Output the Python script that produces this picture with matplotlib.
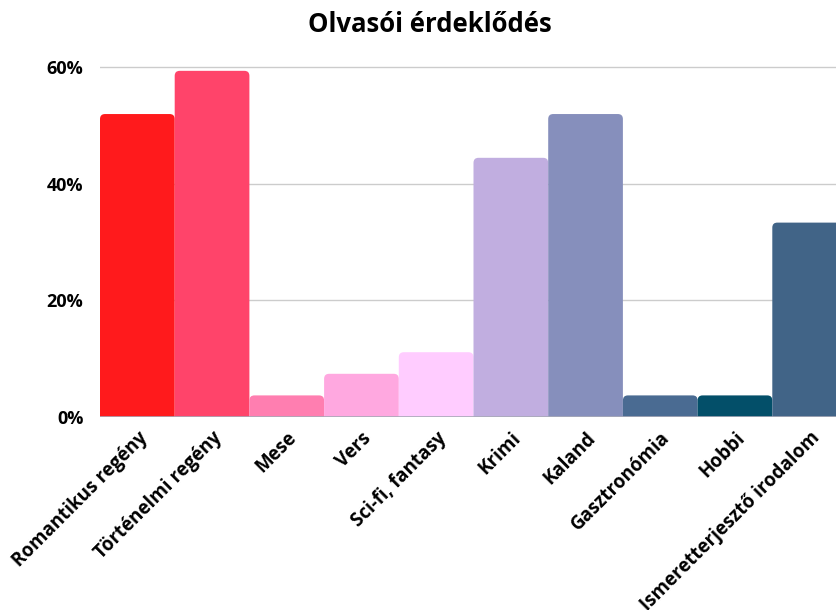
import matplotlib.pyplot as plt
from matplotlib.patches import FancyBboxPatch
from matplotlib.ticker import PercentFormatter

categories = ["Romantikus regény", "Történelmi regény", "Mese", "Vers",
              "Sci-fi, fantasy", "Krimi", "Kaland", "Gasztronómia", "Hobbi",
              "Ismeretterjesztő irodalom"]
values = [51.9, 59.3, 3.7, 7.4, 11.1, 44.4, 51.9, 3.7, 3.7, 33.3]
colors = ["#ff1a1c", "#ff446a", "#ff7eb0", "#ffa8e0", "#ffccff",
          "#c1aee0", "#868fbc", "#4a6b92", "#034f69", "#416487"]
yticks = [0, 20, 40, 60]

plt.rcParams['font.family'] = ['Open Sans', 'DejaVu Sans']

fig = plt.figure(figsize=(8.36, 6.1), dpi=100)
ax = fig.add_axes([100 / 836, 193 / 610, 747 / 836, 352 / 610])

ax.set_xlim(-0.5, len(categories) - 0.5)
ax.set_ylim(0, 60.3)

# px per data unit, used to keep the corner radius round
px_x = 747 / len(categories)
px_y = 352 / 60.3
aspect = px_x / px_y

bars = ax.bar(range(len(values)), values, width=1.0, color=colors)
for b, c in zip(bars, colors):
    b.set_visible(False)
    x, w, h = b.get_x(), b.get_width(), b.get_height()
    r = 5 / px_x
    patch = FancyBboxPatch((x, -5), w, h + 5,
                           boxstyle=f"round,pad=0,rounding_size={r}",
                           mutation_aspect=aspect, facecolor=c,
                           edgecolor="none", zorder=2)
    ax.add_patch(patch)

ax.set_yticks(yticks)
ax.yaxis.set_major_formatter(PercentFormatter(decimals=0))
ax.grid(axis="y", color="#cccccc", linewidth=1, zorder=0)
ax.axhline(0, color="#a8aab8", linewidth=1.2, zorder=3)
for s in ax.spines.values():
    s.set_visible(False)
ax.tick_params(axis="both", length=0)
ax.tick_params(axis="y", pad=12, labelsize=13)

ax.set_xticks(range(len(categories)))
ax.set_xticklabels(categories, rotation=45, ha="right", va="top",
                   rotation_mode="anchor", fontsize=13.5, fontweight="bold")
for t in ax.get_yticklabels():
    t.set_fontweight("bold")
ax.tick_params(axis="x", pad=8)

fig.suptitle("Olvasói érdeklődés", x=430 / 836, y=1 - 11 / 610,
             fontsize=18.5, fontweight="bold", va="top")

fig.savefig("out.png", dpi=100)
